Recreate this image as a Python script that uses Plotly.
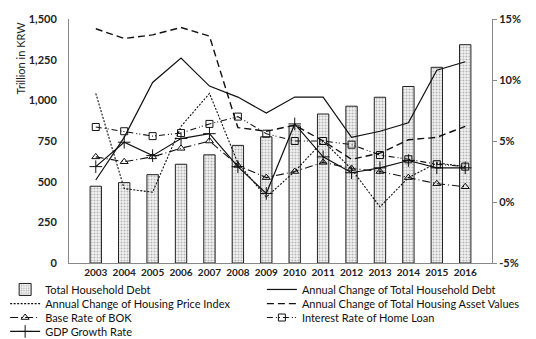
import plotly.graph_objects as go

years = ["2003", "2004", "2005", "2006", "2007", "2008", "2009", "2010",
         "2011", "2012", "2013", "2014", "2015", "2016"]
household_debt = [472, 494, 543, 607, 665, 723, 776, 843, 916, 964, 1019, 1085, 1203, 1342]
debt_change = [1.8, 5.3, 9.8, 11.8, 9.5, 8.6, 7.3, 8.6, 8.6, 5.3, 5.8, 6.5, 10.8, 11.5]
housing_price = [8.9, 1.1, 0.8, 6.2, 8.9, 3.2, 0.4, 2.5, 5.0, 2.7, -0.4, 2.0, 3.2, 2.9]
asset_values = [14.2, 13.4, 13.7, 14.3, 13.6, 6.1, 5.8, 6.3, 5.0, 3.5, 4.0, 5.1, 5.3, 6.2]
bok_rate = [3.7, 3.3, 3.7, 4.4, 5.0, 3.0, 2.0, 2.5, 3.25, 2.75, 2.5, 2.0, 1.5, 1.25]
loan_rate = [6.15, 5.8, 5.4, 5.65, 6.4, 7.0, 5.6, 5.0, 5.0, 4.7, 3.85, 3.5, 3.1, 2.9]
gdp_growth = [2.9, 4.9, 3.8, 5.2, 5.6, 2.9, 0.7, 6.4, 3.7, 2.4, 2.8, 3.4, 2.8, 2.8]

left_ticks = [0, 250, 500, 750, 1000, 1250, 1500]
right_ticks = [-5, 0, 5, 10, 15]
right_labels = ["-5%", "0%", "5%", "10%", "15%"]

FONT = "Lato, 'Open Sans', sans-serif"
TICKFONT = dict(size=11, family=FONT, weight=700, color="#222222")
fig = go.Figure()

fig.add_trace(go.Bar(
    x=years, y=household_debt, name="Total Household Debt", legend="legend",
    width=0.4,
    marker=dict(color="#f2f2f2", line=dict(color="#222222", width=1),
                pattern=dict(shape=".", fgcolor="#777777", bgcolor="#f4f4f4", size=3, solidity=0.4)),
))
fig.add_trace(go.Scatter(
    x=years, y=debt_change, name="Annual Change of Total Household Debt", yaxis="y2",
    legend="legend2",
    mode="lines", line=dict(color="#111111", width=1.2),
))
fig.add_trace(go.Scatter(
    x=years, y=housing_price, name="Annual Change of Housing Price Index", yaxis="y2",
    legend="legend3",
    mode="lines", line=dict(color="#111111", width=1.1, dash="2px,1.5px"),
))
fig.add_trace(go.Scatter(
    x=years, y=asset_values, name="Annual Change of Total Housing Asset Values", yaxis="y2",
    legend="legend4",
    mode="lines", line=dict(color="#111111", width=1.4, dash="7px,4px"),
))
fig.add_trace(go.Scatter(
    x=years, y=bok_rate, name="Base Rate of BOK", yaxis="y2", legend="legend5",
    mode="lines+markers", line=dict(color="#111111", width=1.1, dash="8px,3px,1px,3px"),
    marker=dict(symbol="triangle-up-open", size=7, color="#111111", line=dict(width=1)),
))
fig.add_trace(go.Scatter(
    x=years, y=loan_rate, name="Interest Rate of Home Loan", yaxis="y2", legend="legend6",
    mode="lines+markers", line=dict(color="#111111", width=1.1, dash="6px,3px,1px,2px,1px,3px"),
    marker=dict(symbol="square-open", size=7, color="#111111", line=dict(width=1)),
))
fig.add_trace(go.Scatter(
    x=years, y=gdp_growth, name="GDP Growth Rate", yaxis="y2", legend="legend7",
    mode="lines+markers", line=dict(color="#111111", width=1.2),
    marker=dict(symbol="cross-thin-open", size=9, color="#111111", line=dict(width=1, color="#111111")),
))

# one legend per entry so rows can sit closer than Plotly's default item height
col_x = [-0.151, 0.456]
row_y = [-0.049, -0.107, -0.164, -0.221]
positions = [(0, 0), (1, 0), (0, 1), (1, 1), (0, 2), (1, 2), (0, 3)]
legend_cfg = {}
for i, (c, r) in enumerate(positions):
    key = "legend" if i == 0 else f"legend{i + 1}"
    legend_cfg[key] = dict(
        x=col_x[c], xanchor="left", y=row_y[r], yanchor="top",
        orientation="h", font=dict(size=11, family=FONT, color="#111111"),
        bgcolor="rgba(0,0,0,0)", borderwidth=0, itemwidth=30,
    )

fig.update_layout(
    width=536, height=339,
    margin=dict(l=69, r=44, t=19, b=76, autoexpand=False),
    paper_bgcolor="white", plot_bgcolor="white",
    font=dict(family=FONT, size=11, color="#111111"),
    showlegend=True,
    xaxis=dict(type="category", showline=True, linecolor="#888888", linewidth=1,
               ticks="", tickfont=dict(size=10, family=FONT, weight=700, color="#222222"),
               showgrid=False),
    yaxis=dict(range=[0, 1500], tickvals=left_ticks,
               tickformat=",", showline=True, linecolor="#888888", linewidth=1,
               showgrid=False, zeroline=False, ticks="", ticklabelstandoff=9,
               tickfont=TICKFONT),
    yaxis2=dict(range=[-5, 15], tickvals=right_ticks, ticktext=right_labels,
                overlaying="y", side="right", showline=True, linecolor="#888888",
                linewidth=1, showgrid=False, zeroline=False, ticks="outside",
                ticklen=4, tickcolor="#888888", tickfont=TICKFONT),
    annotations=[dict(text="Trillion in KRW", xref="paper", yref="paper",
                      x=-0.115, y=0.84, xanchor="center", yanchor="middle",
                      textangle=-90, showarrow=False,
                      font=dict(size=11, family=FONT, color="#222222"))],
    **legend_cfg,
)

fig.write_html("out.html")
